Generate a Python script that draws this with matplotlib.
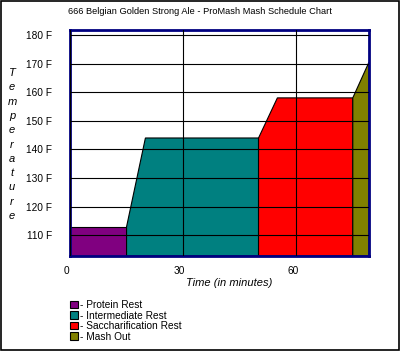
import matplotlib
matplotlib.use("Agg")
import matplotlib.pyplot as plt
from matplotlib.patches import Patch, Rectangle
from matplotlib.transforms import ScaledTranslation

plt.rcParams['font.family'] = ['Liberation Sans', 'DejaVu Sans']

# mash schedule (minutes, degrees F)
steps = ["Protein Rest", "Intermediate Rest", "Saccharification Rest", "Mash Out"]
step_colors = ["#800080", "#008080", "#ff0000", "#808000"]
step_start = [0, 15, 50, 75]
ramp_end = [0, 20, 55, 79.3]
step_end = [15, 50, 75, 79.3]
start_temp = [113, 113, 144, 158]
rest_temp = [113, 144, 158, 170.5]

y_ticks = [110, 120, 130, 140, 150, 160, 170, 180]
y_labels = [str(t) + " F" for t in y_ticks]
x_ticks = [0, 30, 60]

W, H = 401, 351
fig = plt.figure(figsize=(W / 100, H / 100), dpi=100)
ax = fig.add_axes([70 / W, 1 - 256 / H, (369 - 70) / W, (256 - 30) / H])

ymin, ymax = 102.8, 181.7
for i in range(len(steps)):
    xs = [step_start[i], step_start[i], ramp_end[i], step_end[i], step_end[i]]
    ys = [ymin, start_temp[i], rest_temp[i], rest_temp[i], ymin]
    ax.fill(xs, ys, facecolor=step_colors[i], edgecolor="black", linewidth=0.8)

ax.set_xlim(0, 79.3)
ax.set_ylim(ymin, ymax)
ax.set_axisbelow(False)
ax.set_yticks(y_ticks)
ax.set_yticklabels(y_labels, fontsize=7.3)
ax.set_xticks(x_ticks)
ax.set_xticklabels([str(t) for t in x_ticks], fontsize=7.3)
ax.grid(True, color="black", linewidth=0.8)
ax.tick_params(length=0)
ax.tick_params(axis="y", pad=13)
ax.tick_params(axis="x", pad=7)
for lab in ax.get_xticklabels():
    lab.set_transform(lab.get_transform() + ScaledTranslation(-0.035, 0, fig.dpi_scale_trans))
for sp in ax.spines.values():
    sp.set_color("#000080")
    sp.set_linewidth(2)

fig.text(200 / W, 1 - 11 / H, "666 Belgian Golden Strong Ale - ProMash Mash Schedule Chart",
         ha="center", va="center", fontsize=6.7)
fig.text(229 / W, 1 - 283 / H, "Time (in minutes)", ha="center", va="center",
         fontsize=8, style="italic")
for k, ch in enumerate("Temperature"):
    fig.text(12 / W, 1 - (73 + 14.3 * k) / H, ch, ha="center", va="center",
             fontsize=8, style="italic")

handles = [Patch(facecolor=c, edgecolor="black", linewidth=0.8) for c in step_colors]
fig.legend(handles, ["- " + s for s in steps], loc="upper left",
           bbox_to_anchor=(70 / W, 1 - 300 / H), frameon=False, fontsize=7.3,
           handlelength=0.75, handleheight=0.75, handletextpad=0.2,
           labelspacing=0.05, borderpad=0, borderaxespad=0)

fig.patches.append(Rectangle((0.5 / W, 1.5 / H), 398.5 / W, 348.5 / H, transform=fig.transFigure,
                             fill=False, edgecolor="black", linewidth=1.2))

fig.savefig("out.png", dpi=100)
